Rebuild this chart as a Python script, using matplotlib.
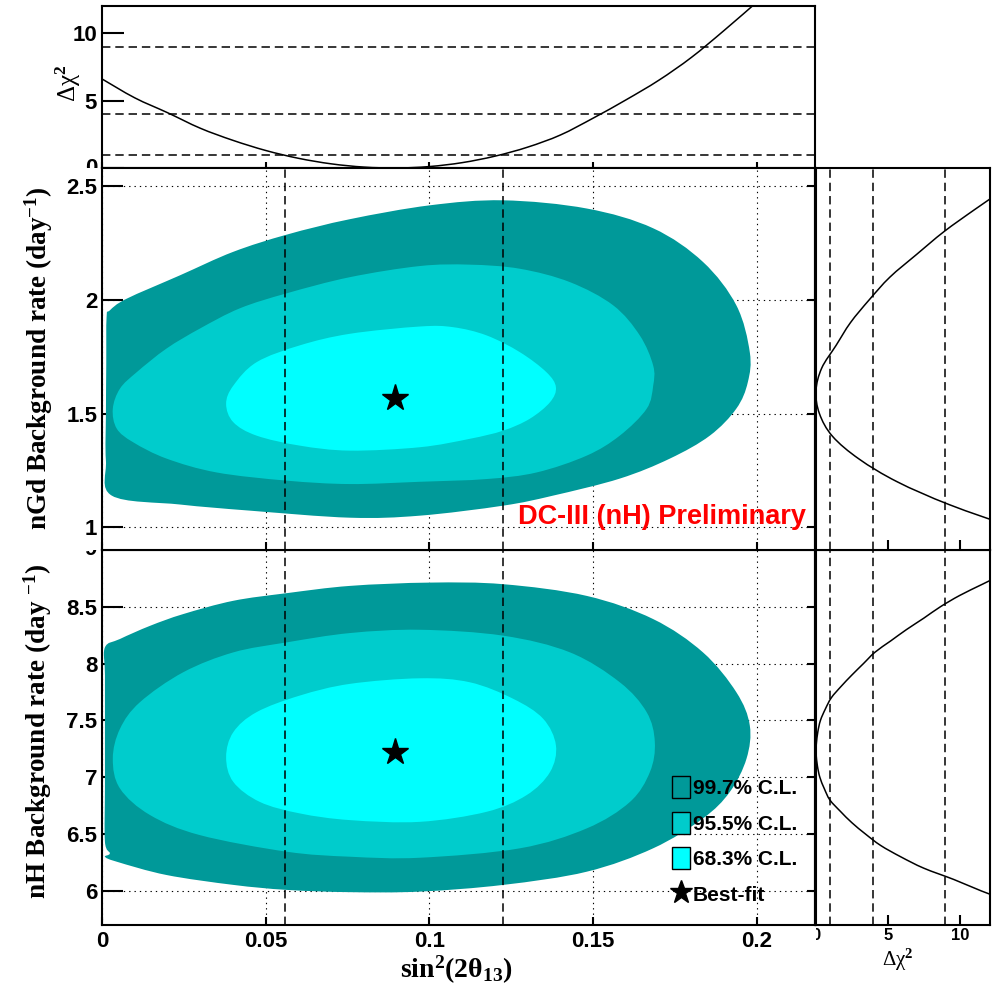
"""
Double Chooz DC-III (nH): sin^2(2theta13) vs background rate contours
with the 1D delta chi2 profiles on the sides.
"""
import matplotlib
matplotlib.use('Agg')
import numpy as np
import matplotlib.pyplot as plt
from matplotlib.patches import Patch, PathPatch
from matplotlib.path import Path
from matplotlib.lines import Line2D
from matplotlib.transforms import Bbox, TransformedBbox

plt.rcParams['font.family'] = ['Liberation Sans', 'DejaVu Sans']
plt.rcParams['font.weight'] = 'bold'
plt.rcParams['mathtext.fontset'] = 'custom'
plt.rcParams['mathtext.rm'] = 'Liberation Serif'
plt.rcParams['mathtext.it'] = 'Liberation Serif:italic'
plt.rcParams['mathtext.bf'] = 'Liberation Serif:bold'

# ---- data ----
# top: delta chi2 profile vs sin^2(2theta13)
s22t_scan = [0.0, 0.01, 0.02, 0.03, 0.04, 0.05, 0.06, 0.07, 0.08, 0.09, 0.10,
             0.11, 0.12, 0.13, 0.14, 0.15, 0.16, 0.17, 0.18, 0.19, 0.20]
dchi2_s22t = [6.6, 5.2, 4.1, 2.95, 2.05, 1.3, 0.72, 0.31, 0.07, 0.0, 0.11,
              0.4, 0.88, 1.55, 2.45, 3.7, 5.05, 6.5, 8.2, 10.2, 12.3]

# right: delta chi2 profile vs nGd background rate
ngd_scan = [1.0, 1.1, 1.2, 1.3, 1.4, 1.5, 1.6, 1.7, 1.8, 1.9, 2.0, 2.1, 2.2,
            2.3, 2.4, 2.5]
dchi2_ngd = [13.7, 9.25, 5.65, 3.0, 1.15, 0.24, 0.0, 0.4, 1.4, 2.4, 3.7,
             5.14, 7.0, 8.9, 11.1, 13.4]

# right: delta chi2 profile vs nH background rate
nh_scan = [5.9, 6.0, 6.1, 6.2, 6.3, 6.4, 6.5, 6.6, 6.7, 6.8, 6.9, 7.0, 7.1,
           7.2, 7.24, 7.3, 7.4, 7.5, 7.6, 7.7, 7.8, 7.9, 8.0, 8.1, 8.2, 8.3,
           8.4, 8.5, 8.6, 8.7, 8.8]
dchi2_nh = [13.6, 11.5, 9.6, 7.5, 5.9, 4.5, 3.45, 2.5, 1.7, 0.97, 0.58, 0.27,
            0.1, 0.01, 0.0, 0.03, 0.13, 0.31, 0.65, 1.07, 1.75, 2.5, 3.3, 4.1,
            5.2, 6.3, 7.5, 8.65, 10.0, 11.6, 13.2]

# contour outlines (sin^2(2theta13), rate)
ngd_997_x = [0.0014, 0.0024, 0.0075, 0.0238, 0.0400, 0.0564, 0.0757, 0.1001,
             0.1225, 0.1480, 0.1683, 0.1835, 0.1937, 0.1978, 0.1972, 0.1937,
             0.1856, 0.1734, 0.1581, 0.1377, 0.1225, 0.0971, 0.0757, 0.0452,
             0.0238, 0.0030, 0.0012, 0.0012, 0.0013]
ngd_997_y = [1.924, 1.954, 2.005, 2.108, 2.211, 2.287, 2.355, 2.416, 2.438,
             2.402, 2.315, 2.167, 1.976, 1.770, 1.638, 1.522, 1.403, 1.302,
             1.214, 1.139, 1.095, 1.051, 1.042, 1.073, 1.100, 1.139, 1.293,
             1.500, 1.720]
ngd_955_x = [0.0033, 0.0055, 0.0106, 0.0197, 0.0299, 0.0421, 0.0564, 0.0757,
             0.0971, 0.1123, 0.1276, 0.1429, 0.1561, 0.1642, 0.1683, 0.1683,
             0.1663, 0.1581, 0.1480, 0.1327, 0.1174, 0.0971, 0.0757, 0.0564,
             0.0350, 0.0197, 0.0095, 0.0045]
ngd_955_y = [1.521, 1.610, 1.682, 1.786, 1.874, 1.963, 2.029, 2.100, 2.149,
             2.155, 2.137, 2.078, 1.976, 1.844, 1.711, 1.623, 1.521, 1.403,
             1.315, 1.241, 1.212, 1.200, 1.190, 1.205, 1.241, 1.302, 1.374,
             1.434]
ngd_683_x = [0.0379, 0.0401, 0.0472, 0.0604, 0.0757, 0.0971, 0.1072, 0.1174,
             0.1276, 0.1357, 0.1386, 0.1368, 0.1306, 0.1225, 0.1123, 0.0971,
             0.0757, 0.0604, 0.0472, 0.0401]
ngd_683_y = [1.543, 1.623, 1.726, 1.800, 1.851, 1.883, 1.880, 1.844, 1.770,
             1.682, 1.616, 1.550, 1.477, 1.425, 1.389, 1.352, 1.337, 1.359,
             1.403, 1.462]

nh_997_x = [0.0009, 0.0055, 0.0147, 0.0248, 0.0401, 0.0564, 0.0757, 0.1001,
            0.1225, 0.1480, 0.1683, 0.1835, 0.1937, 0.1978, 0.1968, 0.1917,
            0.1835, 0.1683, 0.1480, 0.1225, 0.0971, 0.0757, 0.0564, 0.0401,
            0.0197, 0.0045, 0.0009, 0.0024, 0.0009, 0.0009, 0.0009, 0.0009]
nh_997_y = [8.143, 8.217, 8.333, 8.436, 8.553, 8.620, 8.684, 8.713, 8.699,
            8.596, 8.392, 8.099, 7.748, 7.456, 7.164, 6.871, 6.638, 6.375,
            6.169, 6.053, 5.994, 5.989, 6.009, 6.053, 6.140, 6.257, 6.301,
            6.331, 6.432, 6.900, 7.400, 7.900]
nh_955_x = [0.0033, 0.0055, 0.0116, 0.0248, 0.0401, 0.0564, 0.0757, 0.0971,
            0.1225, 0.1429, 0.1581, 0.1663, 0.1688, 0.1673, 0.1612, 0.1480,
            0.1276, 0.0971, 0.0757, 0.0564, 0.0299, 0.0147, 0.0055]
nh_955_y = [7.164, 7.427, 7.661, 7.924, 8.099, 8.187, 8.269, 8.298, 8.246,
            8.099, 7.836, 7.573, 7.310, 7.046, 6.783, 6.550, 6.375, 6.292,
            6.301, 6.345, 6.491, 6.667, 6.901]
nh_683_x = [0.0379, 0.0401, 0.0472, 0.0604, 0.0757, 0.0971, 0.1123, 0.1256,
            0.1347, 0.1386, 0.1368, 0.1296, 0.1174, 0.0971, 0.0757, 0.0604,
            0.0482, 0.0401]
nh_683_y = [7.178, 7.397, 7.573, 7.719, 7.822, 7.871, 7.836, 7.690, 7.515,
            7.281, 7.046, 6.842, 6.696, 6.608, 6.623, 6.682, 6.783, 6.959]

best_s22t = 0.0894
best_ngd = 1.57
best_nh = 7.22
s22t_1sigma = [0.056, 0.1224]
dchi2_levels = [1, 4, 9]

cl_labels = ['99.7% C.L.', '95.5% C.L.', '68.3% C.L.', 'Best-fit']
cl_colors = ['#009999', '#00cccc', '#00ffff']

s22t_ticks = [0, 0.05, 0.1, 0.15, 0.2]
s22t_ticklabels = ['0', '0.05', '0.1', '0.15', '0.2']
ngd_ticks = [1, 1.5, 2, 2.5]
ngd_ticklabels = ['1', '1.5', '2', '2.5']
nh_ticks = [6, 6.5, 7, 7.5, 8, 8.5]
nh_ticklabels = ['6', '6.5', '7', '7.5', '8', '8.5']
dchi2_ticks = [5, 10]

# ---- styles ----
DOT = dict(color='black', lw=0.8, ls=(0, (1.2, 3.6)))
DASH = dict(color='black', lw=1.1, ls=(0, (5.5, 3.2)))
SERIF = ['Liberation Serif', 'DejaVu Serif']


def smooth_path(xs, ys, closed=False):
    """Path through the points, drawn as a smooth curve (like ROOT's "C")."""
    p = np.column_stack([xs, ys]).astype(float)
    n = len(p)
    if closed:
        prev = np.roll(p, 1, axis=0)
        nxt = np.roll(p, -1, axis=0)
        nxt2 = np.roll(p, -2, axis=0)
        segs = range(n)
    else:
        prev = np.vstack([p[:1], p[:-1]])
        nxt = np.vstack([p[1:], p[-1:]])
        nxt2 = np.vstack([p[2:], p[-1:], p[-1:]])
        segs = range(n - 1)
    verts = [p[0]]
    codes = [Path.MOVETO]
    for i in segs:
        verts += [p[i] + (nxt[i] - prev[i]) / 6.0,
                  nxt[i] - (nxt2[i] - p[i]) / 6.0,
                  nxt[i]]
        codes += [Path.CURVE4] * 3
    if closed:
        verts.append(p[0])
        codes.append(Path.CLOSEPOLY)
    return Path(verts, codes)


def curve(ax, xs, ys):
    ax.add_patch(PathPatch(smooth_path(xs, ys), fill=False, edgecolor='black',
                           lw=1.1, zorder=2))


def frame(ax, ylen=15):
    for s in ax.spines.values():
        s.set_linewidth(1.5)
    ax.tick_params(axis='y', direction='in', length=ylen, width=1.5,
                   labelsize=16, pad=3.5)
    ax.tick_params(axis='x', direction='in', length=6, width=1.5,
                   labelsize=16, pad=4)


def right_ticks(ax, ticks):
    sec = ax.secondary_yaxis('right')
    sec.set_yticks(ticks)
    sec.tick_params(direction='in', length=6, width=1.5, labelright=False)
    sec.spines['right'].set_linewidth(1.5)


def cut_label(ax, x, y, s, keep, size=16, **kw):
    # tick label that ROOT half hides behind the neighbouring pad
    t = ax.text(x, y, s, transform=ax.transAxes, fontsize=size, **kw)
    t.set_clip_path(None)
    t.set_clip_box(TransformedBbox(Bbox(keep), ax.transAxes))
    t.set_clip_on(True)


def contour_panel(ax, outlines, best_y):
    for (xs, ys), c in zip(outlines, cl_colors):
        ax.add_patch(PathPatch(smooth_path(xs, ys, closed=True), facecolor=c,
                               edgecolor='none', lw=0, zorder=1))
    ax.set_axisbelow(True)
    ax.grid(True, **DOT)
    for x in s22t_1sigma:
        ax.axvline(x, zorder=3, **DASH)
    ax.plot([best_s22t], [best_y], marker='*', color='black', ms=20,
            ls='none', zorder=5)
    ax.set_xlim(0, 0.2177)
    ax.set_xticks(s22t_ticks)


fig = plt.figure(figsize=(9.98, 9.89), dpi=100)
L, W = 0.1022, 0.7144
RL, RW = 0.8176, 0.1743
ax_top = fig.add_axes([L, 0.8301, W, 0.1638])
ax_nh = fig.add_axes([L, 0.0647, W, 0.3792])
ax_ngd = fig.add_axes([L, 0.4439, W, 0.3862])
ax_rnh = fig.add_axes([RL, 0.0647, RW, 0.3792])
ax_rngd = fig.add_axes([RL, 0.4439, RW, 0.3862])

# top profile
frame(ax_top, ylen=16)
curve(ax_top, s22t_scan, dchi2_s22t)
for lev in dchi2_levels:
    ax_top.axhline(lev, **DASH)
ax_top.set_xlim(0, 0.2177)
ax_top.set_ylim(0, 12)
ax_top.set_xticks(s22t_ticks)
ax_top.tick_params(axis='x', length=4, labelbottom=False)
ax_top.set_yticks([0, 5, 10])
ax_top.set_yticklabels(['', '5', '10'])
cut_label(ax_top, -0.007, 0.0, '0', [[-0.2, 0], [0, 1]], ha='right', va='center')
ax_top.text(-0.047, 0.52, r'Δχ$^{2}$', transform=ax_top.transAxes, rotation=90,
            ha='center', va='center', fontsize=18, fontweight='normal',
            family=SERIF)

# nH contour panel
frame(ax_nh)
contour_panel(ax_nh, [(nh_997_x, nh_997_y), (nh_955_x, nh_955_y),
                      (nh_683_x, nh_683_y)], best_nh)
ax_nh.set_ylim(5.7, 9.0)
ax_nh.set_yticks(nh_ticks)
ax_nh.set_yticklabels(nh_ticklabels)
ax_nh.set_xticklabels(s22t_ticklabels)
right_ticks(ax_nh, nh_ticks)
cut_label(ax_nh, -0.007, 1.0, '9', [[-0.2, 0], [0, 1]], ha='right', va='center')
ax_nh.text(-0.0898, 0.517, r'nH Background rate (day $^{\mathbf{-1}}$)',
           transform=ax_nh.transAxes, rotation=90, ha='center', va='center',
           fontsize=19.5, family=SERIF)
ax_nh.text(0.4965, -0.12, r'sin$^{\mathbf{2}}$(2θ$_{\mathbf{13}}$)',
           transform=ax_nh.transAxes, ha='center', va='center', fontsize=20,
           family=SERIF)
handles = [Patch(facecolor=c, edgecolor='black', lw=1) for c in cl_colors]
handles.append(Line2D([], [], marker='*', color='black', ls='none', ms=17))
ax_nh.legend(handles, cl_labels, loc='upper left', bbox_to_anchor=(0.80, 0.397),
             frameon=False, fontsize=15, borderpad=0, borderaxespad=0,
             handlelength=0.87, handleheight=1.25, handletextpad=0.1,
             labelspacing=0.65)

# nGd contour panel (drawn after nH so it hides the top of the '9')
frame(ax_ngd)
contour_panel(ax_ngd, [(ngd_997_x, ngd_997_y), (ngd_955_x, ngd_955_y),
                       (ngd_683_x, ngd_683_y)], best_ngd)
ax_ngd.set_ylim(0.9, 2.58)
ax_ngd.set_yticks(ngd_ticks)
ax_ngd.set_yticklabels(ngd_ticklabels)
ax_ngd.tick_params(axis='x', labelbottom=False)
right_ticks(ax_ngd, ngd_ticks)
ax_ngd.text(-0.0884, 0.503, r'nGd Background rate (day$^{\mathbf{-1}}$)',
            transform=ax_ngd.transAxes, rotation=90, ha='center', va='center',
            fontsize=19.5, family=SERIF)
ax_ngd.text(0.127, 1.015, 'DC-III (nH) Preliminary', color='red',
            fontsize=19.5, fontweight='bold', va='baseline')

# right-hand profiles
for ax, rate, dchi2, ylim in [(ax_rnh, nh_scan, dchi2_nh, (5.7, 9.0)),
                              (ax_rngd, ngd_scan, dchi2_ngd, (0.9, 2.58))]:
    for s in ax.spines.values():
        s.set_linewidth(1.5)
    curve(ax, dchi2, rate)
    for lev in dchi2_levels:
        ax.axvline(lev, **DASH)
    ax.set_xlim(0, 12.1)
    ax.set_ylim(*ylim)
    ax.set_xticks(dchi2_ticks)
    ax.set_yticks([])
    ax.tick_params(axis='x', direction='in', length=7, width=1.5,
                   labelsize=12, pad=2.5)

ax_rngd.tick_params(axis='x', labelbottom=False)
ax_rnh.set_xticklabels(['5', '10'])
cut_label(ax_rnh, 0.0, -0.009, '0', [[0, -0.2], [1, 0]], size=12,
          ha='center', va='top')
ax_rnh.text(0.47, -0.092, r'Δχ$^{2}$', transform=ax_rnh.transAxes,
            ha='center', va='center', fontsize=15, fontweight='normal',
            family=SERIF)

fig.savefig('out.png', dpi=100)
